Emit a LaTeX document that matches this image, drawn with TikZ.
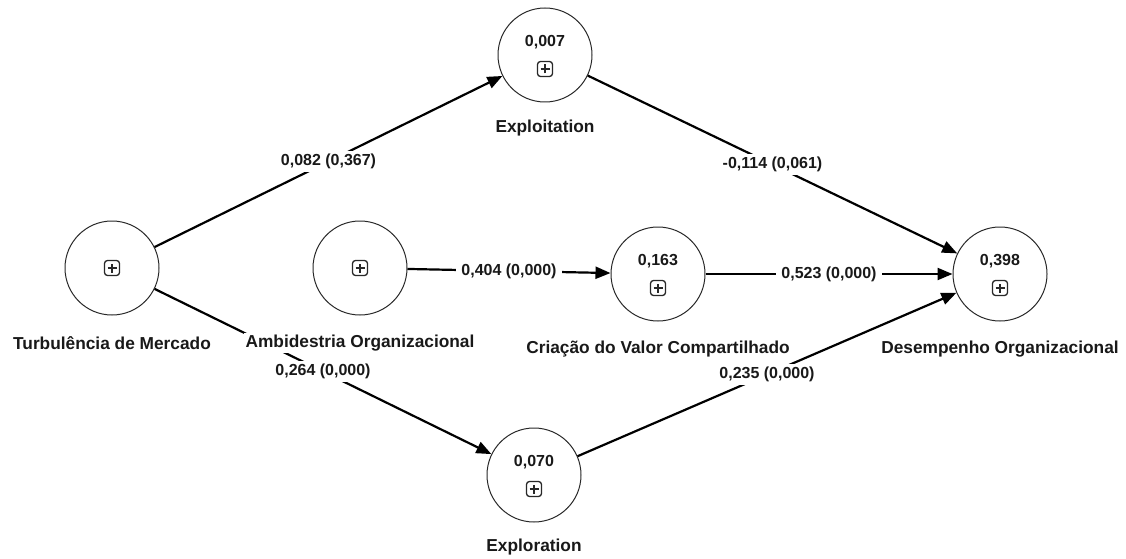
\documentclass[tikz,border=0pt]{standalone}
\usepackage{fontspec}
\setmainfont{Liberation Sans}
\usepackage{tikz}
\usetikzlibrary{arrows.meta,positioning}
\definecolor{pathline}{RGB}{0,0,0}
\definecolor{rim}{RGB}{40,40,40}
\tikzstyle{construct} = [circle, minimum size=94pt, inner sep=0pt, draw=rim, line width=1pt, fill=white]
\tikzstyle{value} = [font=\bfseries\fontsize{16}{19}\selectfont, inner sep=0pt, text=black!90]
\tikzstyle{plusbox} = [rectangle, rounded corners=3pt, minimum size=15pt, inner sep=0pt, draw=rim, line width=1.3pt,
  path picture={\draw[line width=1.3pt] ([xshift=-4.5pt]path picture bounding box.center) -- ([xshift=4.5pt]path picture bounding box.center);
                \draw[line width=1.3pt] ([yshift=-4.5pt]path picture bounding box.center) -- ([yshift=4.5pt]path picture bounding box.center);}]
\tikzstyle{namelabel} = [font=\bfseries\fontsize{17.3}{20}\selectfont, fill=white, inner sep=2pt, text=black!90]
\tikzstyle{weight} = [font=\bfseries\fontsize{16}{19}\selectfont, fill=white, inner xsep=5pt, inner ysep=3pt, midway, text=black!90]
\tikzstyle{arrow} = [line width=2.2pt, -{Triangle[length=15pt,width=12pt]}, color=pathline]

\begin{document}
\begin{tikzpicture}[x=1pt, y=1pt]
\useasboundingbox (0,0) rectangle (1126,558);
% constructs
\node (turb) [construct] at (112,290) {};
\node (ambi) [construct] at (360,290) {};
\node (exploit) [construct] at (545,503) {};
\node (criacao) [construct] at (658,284) {};
\node (desemp) [construct] at (1000,284) {};
\node (explor) [construct] at (534,83) {};
% values and icons
\node (turbplus) [plusbox] at (turb.center) {};
\node (ambiplus) [plusbox] at (ambi.center) {};
\node (exploitval) [value] at ([yshift=13pt]exploit.center) {0,007};
\node (exploitplus) [plusbox] at ([yshift=-14pt]exploit.center) {};
\node (criacaoval) [value] at ([yshift=13pt]criacao.center) {0,163};
\node (criacaoplus) [plusbox] at ([yshift=-14pt]criacao.center) {};
\node (desempval) [value] at ([yshift=13pt]desemp.center) {0,398};
\node (desempplus) [plusbox] at ([yshift=-14pt]desemp.center) {};
\node (explorval) [value] at ([yshift=13pt]explor.center) {0,070};
\node (explorplus) [plusbox] at ([yshift=-14pt]explor.center) {};
% paths
\draw [arrow] (turb) -- node[weight] {0,082 (0,367)} (exploit);
\draw [arrow] (turb) -- node[weight] {0,264 (0,000)} (explor);
\draw [arrow] (ambi) -- node[weight] {0,404 (0,000)} (criacao);
\draw [arrow] (exploit) -- node[weight] {-0,114 (0,061)} (desemp);
\draw [arrow] (criacao) -- node[weight] {0,523 (0,000)} (desemp);
\draw [arrow] (explor) -- node[weight] {0,235 (0,000)} (desemp);
% names
\node (turbname) [namelabel] at ([yshift=-75pt]turb.center) {Turbulência de Mercado};
\node (ambiname) [namelabel] at ([yshift=-75pt]ambi.center) {Ambidestria Organizacional};
\node (exploitname) [namelabel] at ([yshift=-73pt]exploit.center) {Exploitation};
\node (criacaoname) [namelabel] at ([yshift=-75pt]criacao.center) {Criação do Valor Compartilhado};
\node (desempname) [namelabel] at ([yshift=-75pt]desemp.center) {Desempenho Organizacional};
\node (explorname) [namelabel] at ([yshift=-72pt]explor.center) {Exploration};
\end{tikzpicture}
\end{document}
